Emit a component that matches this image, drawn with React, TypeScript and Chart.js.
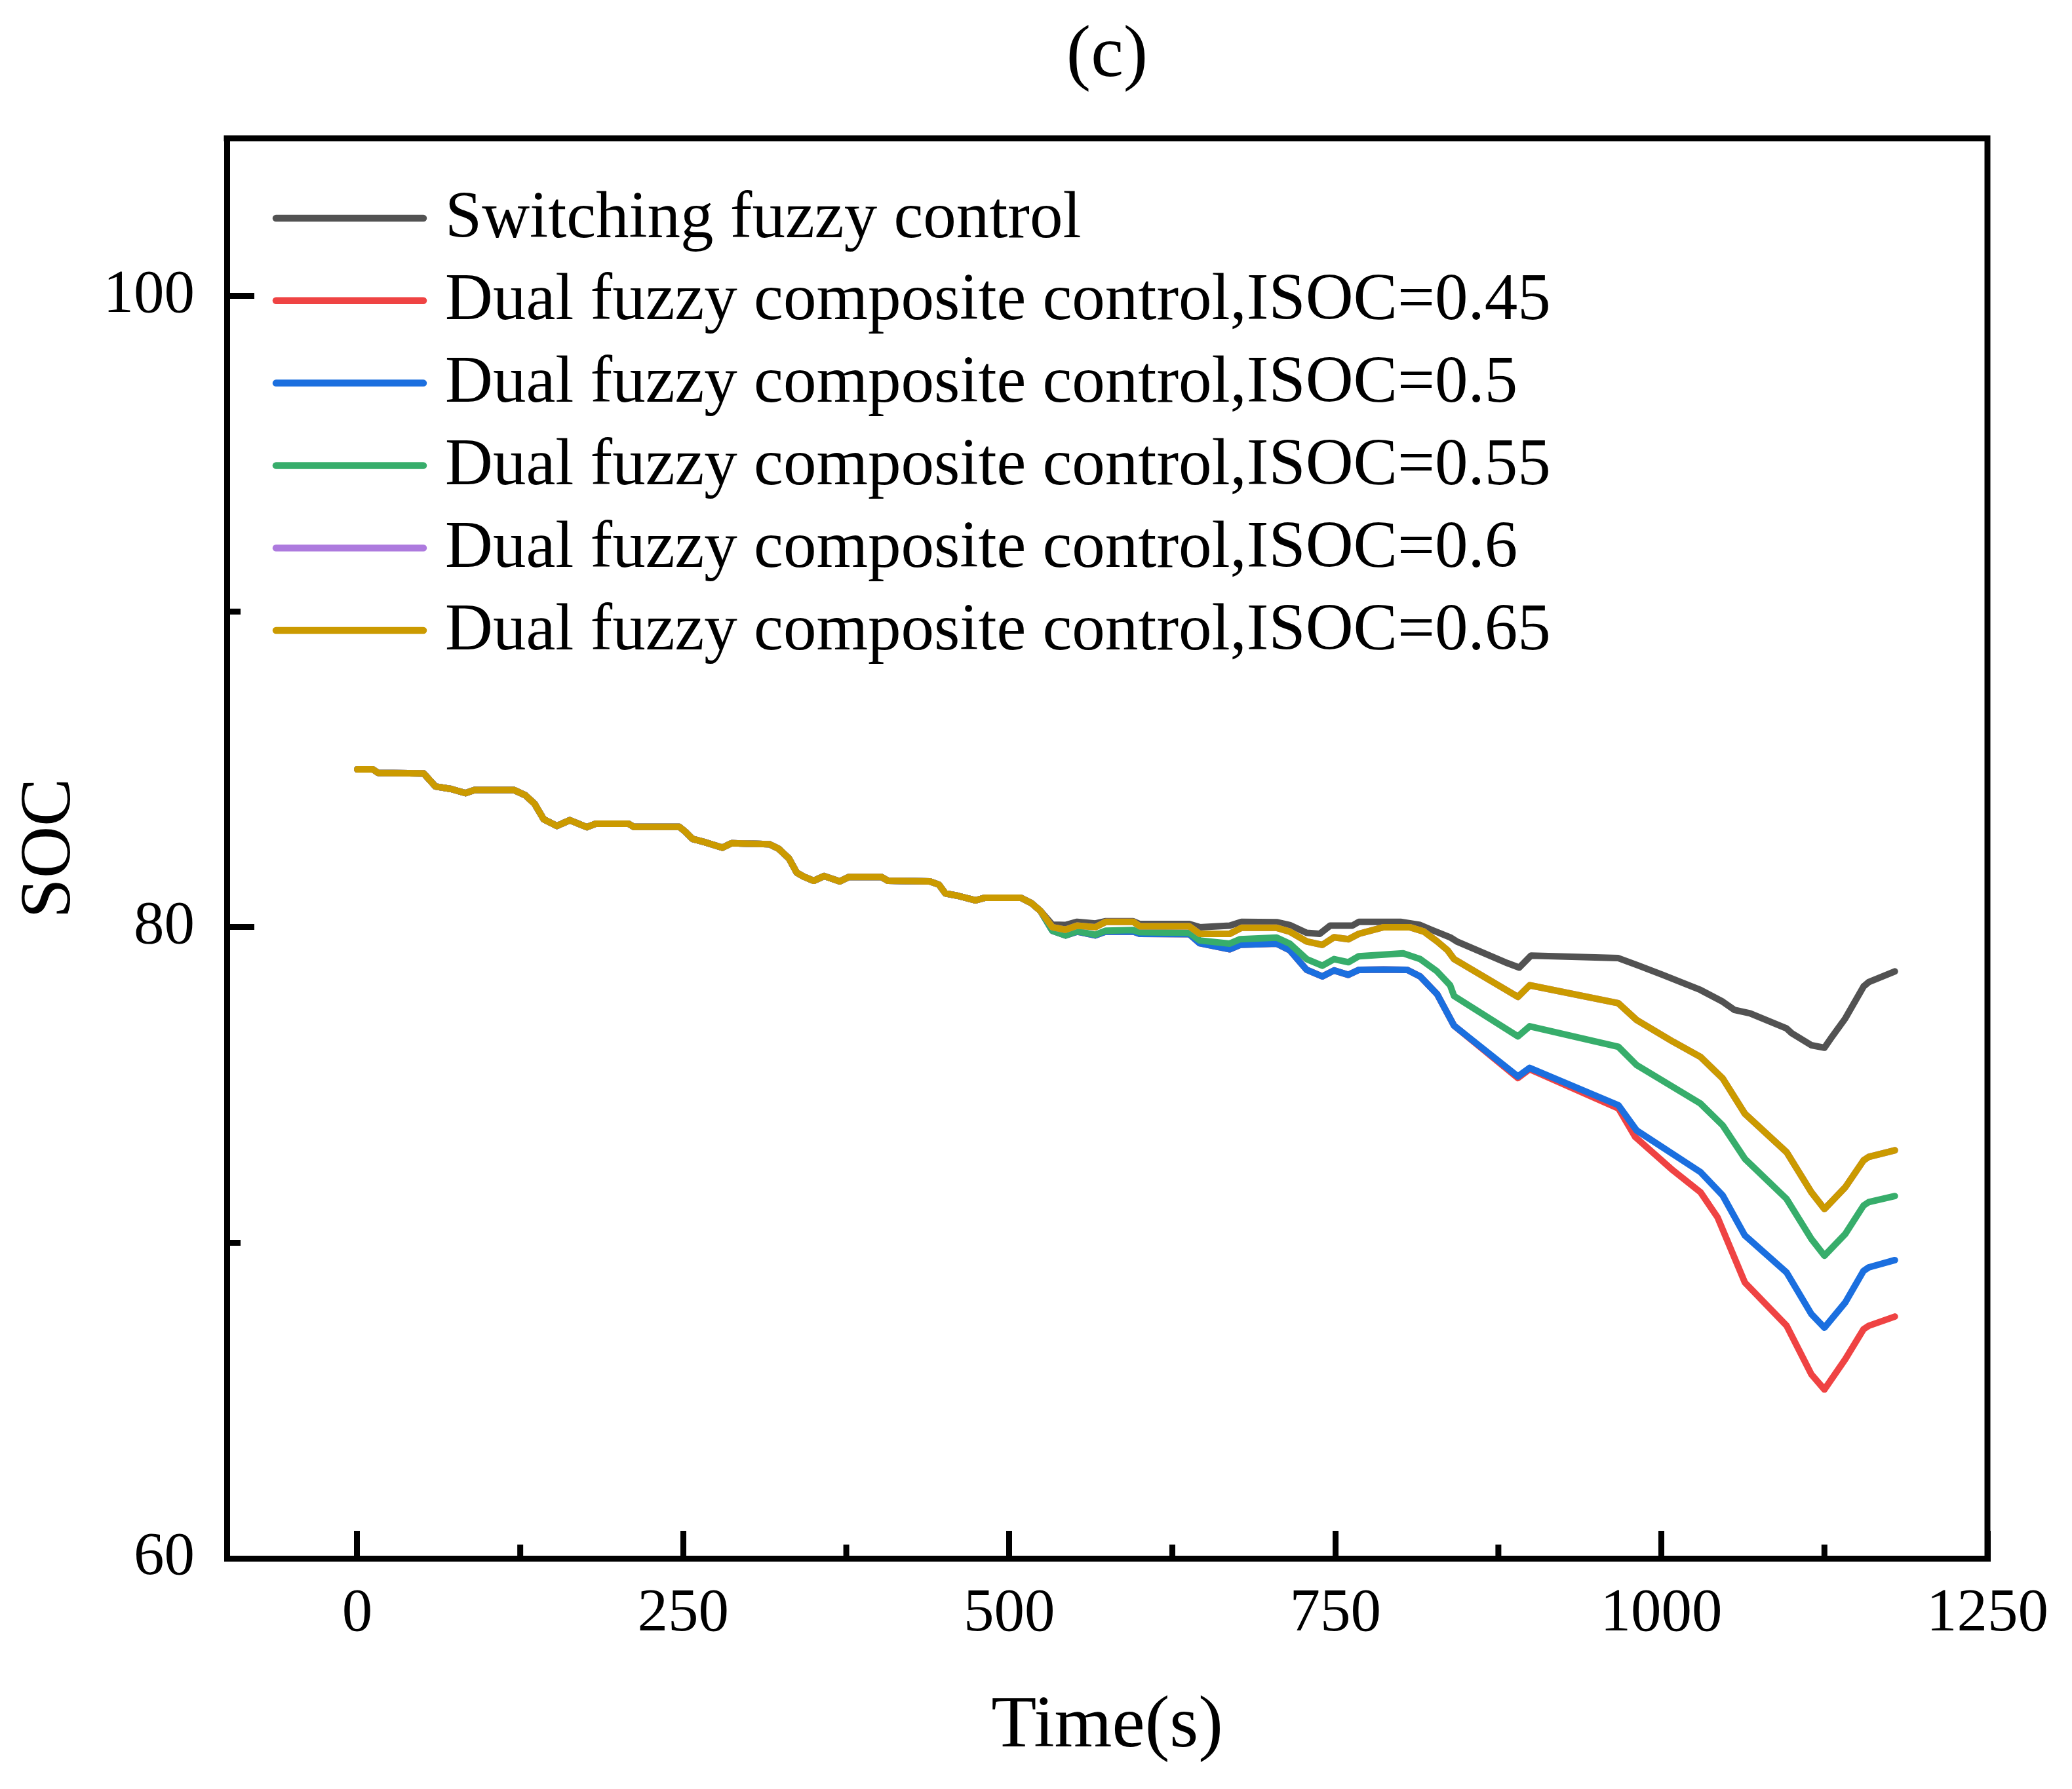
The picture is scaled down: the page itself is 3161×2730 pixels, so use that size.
import React, { useEffect, useRef } from "react";
import Chart from "chart.js/auto";

// shared part of every run (all strategies coincide up to ~530 s)
const commonTime = [0, 12, 16, 51, 60, 72, 83, 90, 120, 129, 136, 143, 153, 163, 176, 183, 208, 212, 247, 252, 257, 266, 280, 287, 316, 323, 331, 337, 342, 350, 358, 370, 377, 402, 407, 439, 446, 451, 460, 474, 481, 509, 517, 524];
const commonSoc = [85.0, 85.0, 84.89, 84.87, 84.46, 84.38, 84.25, 84.35, 84.35, 84.18, 83.91, 83.42, 83.21, 83.39, 83.17, 83.28, 83.28, 83.18, 83.18, 83.01, 82.8, 82.7, 82.52, 82.66, 82.63, 82.49, 82.18, 81.73, 81.61, 81.47, 81.62, 81.45, 81.59, 81.59, 81.47, 81.45, 81.35, 81.07, 81.0, 80.85, 80.93, 80.93, 80.76, 80.51];

const switchingTime = [533, 543, 552, 566, 574, 595, 600, 638, 646, 669, 678, 705, 715, 728, 738, 746, 763, 768, 800, 815, 823, 838, 843, 882, 891, 900, 967, 982, 1001, 1030, 1047, 1056, 1068, 1096, 1100, 1115, 1125, 1130, 1141, 1155, 1159, 1179];
const switchingSoc = [80.08, 80.07, 80.17, 80.12, 80.19, 80.19, 80.1, 80.1, 80.0, 80.05, 80.17, 80.16, 80.07, 79.82, 79.79, 80.05, 80.05, 80.17, 80.17, 80.07, 79.93, 79.68, 79.55, 78.86, 78.72, 79.1, 79.02, 78.79, 78.49, 78.01, 77.64, 77.38, 77.27, 76.79, 76.64, 76.26, 76.18, 76.48, 77.11, 78.12, 78.26, 78.6];

const isoc045Time = [533, 543, 552, 566, 574, 595, 600, 638, 646, 669, 677, 705, 715, 728, 740, 749, 760, 768, 787, 805, 815, 828, 841, 890, 899, 967, 980, 1009, 1030, 1043, 1064, 1096, 1115, 1125, 1141, 1155, 1159, 1179];
const isoc045Soc = [79.89, 79.74, 79.86, 79.74, 79.86, 79.86, 79.79, 79.78, 79.49, 79.3, 79.44, 79.48, 79.27, 78.65, 78.44, 78.63, 78.49, 78.65, 78.66, 78.65, 78.44, 77.88, 76.88, 75.22, 75.5, 74.26, 73.35, 72.29, 71.6, 70.81, 68.74, 67.37, 65.83, 65.35, 66.31, 67.26, 67.37, 67.66];

const isoc050Time = [533, 543, 552, 566, 574, 595, 600, 638, 646, 669, 677, 705, 715, 728, 740, 749, 760, 768, 787, 805, 815, 828, 841, 890, 899, 967, 981, 1030, 1047, 1064, 1096, 1115, 1125, 1141, 1155, 1159, 1179];
const isoc050Soc = [79.89, 79.74, 79.86, 79.74, 79.86, 79.86, 79.79, 79.78, 79.49, 79.3, 79.44, 79.48, 79.27, 78.65, 78.44, 78.63, 78.49, 78.65, 78.66, 78.65, 78.44, 77.88, 76.88, 75.27, 75.54, 74.36, 73.56, 72.24, 71.5, 70.23, 69.06, 67.74, 67.31, 68.11, 69.11, 69.22, 69.45];

const isoc055Time = [533, 543, 552, 566, 574, 595, 600, 638, 646, 669, 677, 705, 715, 728, 740, 749, 760, 768, 787, 802, 815, 828, 838, 841, 890, 899, 967, 981, 1030, 1047, 1064, 1096, 1115, 1125, 1141, 1155, 1159, 1179];
const isoc055Soc = [79.89, 79.74, 79.87, 79.76, 79.89, 79.91, 79.84, 79.82, 79.58, 79.48, 79.62, 79.67, 79.48, 78.99, 78.78, 78.99, 78.89, 79.08, 79.13, 79.17, 78.99, 78.6, 78.16, 77.82, 76.54, 76.86, 76.21, 75.63, 74.41, 73.72, 72.66, 71.39, 70.12, 69.59, 70.28, 71.18, 71.29, 71.48];

const isoc065Time = [533, 543, 552, 566, 574, 595, 600, 638, 646, 669, 678, 705, 715, 728, 740, 749, 760, 768, 787, 807, 818, 828, 836, 841, 890, 899, 967, 981, 1009, 1030, 1047, 1064, 1096, 1115, 1125, 1141, 1155, 1159, 1179];
const isoc065Soc = [80.0, 79.92, 80.05, 80.0, 80.17, 80.17, 80.03, 80.03, 79.79, 79.79, 79.98, 79.98, 79.86, 79.55, 79.44, 79.68, 79.62, 79.79, 80.0, 80.0, 79.86, 79.55, 79.27, 78.99, 77.79, 78.16, 77.59, 77.06, 76.37, 75.89, 75.21, 74.09, 72.87, 71.6, 71.07, 71.76, 72.61, 72.72, 72.93];

// ISOC=0.6 lies exactly under the ISOC=0.65 curve in the figure
const isoc060Time = isoc065Time;
const isoc060Soc = isoc065Soc;

const seriesLabels = [
  "Switching fuzzy control",
  "Dual fuzzy composite control,ISOC=0.45",
  "Dual fuzzy composite control,ISOC=0.5",
  "Dual fuzzy composite control,ISOC=0.55",
  "Dual fuzzy composite control,ISOC=0.6",
  "Dual fuzzy composite control,ISOC=0.65",
];
const seriesColors = ["#525252", "#ef4343", "#1b6fdf", "#37ad6b", "#ad7ade", "#cb9a00"];

const xTicks = [0, 250, 500, 750, 1000, 1250];
const xMinorTicks = [125, 375, 625, 875, 1125];
const yTicks = [60, 80, 100];
const yMinorTicks = [70, 90];

const W = 3161;
const H = 2730;
const FONT = "'Liberation Serif', 'Times New Roman', serif";

const toPoints = (tail: number[], tailSoc: number[]) =>
  commonTime.map((t, i) => ({ x: t, y: commonSoc[i] })).concat(tail.map((t, i) => ({ x: t, y: tailSoc[i] })));

const decorPlugin = {
  id: "decor",
  afterDraw(chart: any) {
    const { ctx, chartArea: a, scales } = chart;
    ctx.save();
    ctx.strokeStyle = "#000";
    ctx.lineWidth = 9;
    ctx.lineCap = "butt";
    ctx.beginPath();
    // top and right edges of the frame
    ctx.moveTo(a.left - 4.5, a.top);
    ctx.lineTo(a.right + 4.5, a.top);
    ctx.moveTo(a.right, a.top);
    ctx.lineTo(a.right, a.bottom + 4.5);
    // minor ticks, pointing inwards
    xMinorTicks.forEach((v) => {
      const x = scales.x.getPixelForValue(v);
      ctx.moveTo(x, a.bottom);
      ctx.lineTo(x, a.bottom - 21);
    });
    yMinorTicks.forEach((v) => {
      const y = scales.y.getPixelForValue(v);
      ctx.moveTo(a.left, y);
      ctx.lineTo(a.left + 21, y);
    });
    ctx.stroke();

    // panel title
    ctx.fillStyle = "#000";
    ctx.font = `112px ${FONT}`;
    ctx.textAlign = "center";
    ctx.textBaseline = "alphabetic";
    ctx.fillText("(c)", (a.left + a.right) / 2, 116);

    // legend in the upper left of the plot area
    ctx.font = `101px ${FONT}`;
    ctx.textAlign = "left";
    ctx.textBaseline = "middle";
    ctx.lineCap = "round";
    ctx.lineWidth = 10.5;
    chart.data.datasets.forEach((ds: any, i: number) => {
      const y = a.top + 122 + i * 125.8;
      ctx.strokeStyle = ds.borderColor;
      ctx.beginPath();
      ctx.moveTo(a.left + 75, y);
      ctx.lineTo(a.left + 300, y);
      ctx.stroke();
      ctx.fillText(ds.label, a.left + 333, y + 2);
    });
    ctx.restore();
  },
};

const App: React.FC = () => {
  const chartRef = useRef<HTMLCanvasElement>(null);

  useEffect(() => {
    document.body.style.margin = "0";
    const ctx = chartRef.current?.getContext("2d");
    if (!ctx) return;

    const tails = [
      [switchingTime, switchingSoc],
      [isoc045Time, isoc045Soc],
      [isoc050Time, isoc050Soc],
      [isoc055Time, isoc055Soc],
      [isoc060Time, isoc060Soc],
      [isoc065Time, isoc065Soc],
    ];
    // lower order is painted on top: 0.65 over 0.6 over ... over switching
    const drawOrder = [5, 4, 3, 2, 1, 0];

    const myChart = new Chart(ctx, {
      type: "line",
      data: {
        datasets: tails.map(([t, s], i) => ({
          label: seriesLabels[i],
          data: toPoints(t, s),
          borderColor: seriesColors[i],
          backgroundColor: seriesColors[i],
          borderWidth: 10,
          borderCapStyle: "round",
          borderJoinStyle: "round",
          pointRadius: 0,
          tension: 0,
          order: drawOrder[i],
        })),
      },
      options: {
        responsive: false,
        devicePixelRatio: 1,
        animation: false,
        layout: { padding: { top: 211, right: 129, bottom: 0, left: 0 } },
        plugins: {
          legend: { display: false },
          tooltip: { enabled: false },
        },
        scales: {
          x: {
            type: "linear",
            min: -100,
            max: 1250,
            afterBuildTicks: (s: any) => {
              s.ticks = xTicks.map((v) => ({ value: v }));
            },
            afterFit: (s: any) => {
              s.height = H - 2378;
              s.paddingLeft = 0;
              s.paddingRight = 0;
            },
            grid: { drawOnChartArea: false, tickLength: -42, tickWidth: 9, tickColor: "#000" },
            border: { display: true, color: "#000", width: 9 },
            ticks: {
              color: "#000",
              font: { family: FONT, size: 93 },
              padding: 72,
              maxRotation: 0,
              autoSkip: false,
              callback: (v: any) => String(v),
            },
            title: {
              display: true,
              text: "Time(s)",
              color: "#000",
              font: { family: FONT, size: 113 },
              padding: { top: 0, bottom: 27 },
            },
          },
          y: {
            type: "linear",
            min: 60,
            max: 105,
            afterBuildTicks: (s: any) => {
              s.ticks = yTicks.map((v) => ({ value: v }));
            },
            afterFit: (s: any) => {
              s.width = 346;
              s.paddingTop = 0;
              s.paddingBottom = 0;
            },
            grid: { drawOnChartArea: false, tickLength: -42, tickWidth: 9, tickColor: "#000" },
            border: { display: true, color: "#000", width: 9 },
            ticks: {
              color: "#000",
              font: { family: FONT, size: 93 },
              padding: 91,
              autoSkip: false,
              callback: (v: any) => String(v),
            },
            title: {
              display: true,
              text: "SOC",
              color: "#000",
              font: { family: FONT, size: 110 },
              padding: { top: 11, bottom: 0 },
            },
          },
        },
      },
      plugins: [decorPlugin],
    } as any);

    return () => myChart.destroy();
  }, []);

  return (
    <div style={{ width: `${W}px`, height: `${H}px`, background: "#fff" }}>
      <canvas ref={chartRef} width={W} height={H} />
    </div>
  );
};

export default App;
